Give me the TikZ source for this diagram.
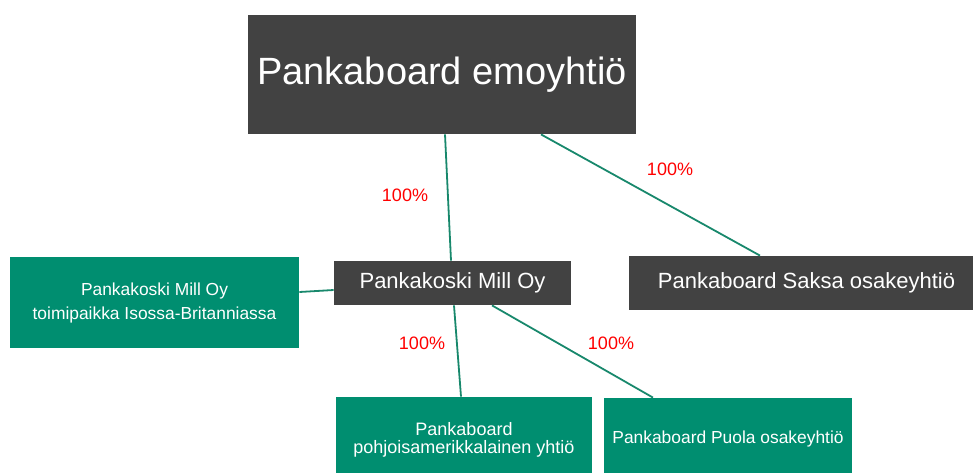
\documentclass[tikz,border=0pt]{standalone}
\usepackage{fontspec}
\setmainfont{Liberation Sans}
\definecolor{pankagray}{RGB}{66,66,66}
\definecolor{pankagreen}{RGB}{0,142,112}
\definecolor{linegreen}{RGB}{24,136,108}

\begin{document}
\begin{tikzpicture}[x=0.5pt,y=-0.5pt,
		darkbox/.style={rectangle,fill=pankagray,text=white,inner sep=0pt,align=center},
		greenbox/.style={rectangle,fill=pankagreen,text=white,inner sep=0pt,align=center},
		link/.style={linegreen,line width=0.9pt},
		share/.style={text=red,inner sep=0pt,font=\fontsize{9}{11}\selectfont}]
			\useasboundingbox (0,0) rectangle (973,472);
			
			\node[darkbox,minimum width=194pt,minimum height=59.5pt,font=\fontsize{19}{23}\selectfont] (parent) at (442,74.5) {Pankaboard emoyhtiö};
			\node[darkbox,minimum width=118.5pt,minimum height=22pt,font=\fontsize{11}{13}\selectfont] (mill) at (452.5,283) {Pankakoski Mill Oy};
			\node[darkbox,minimum width=177.5pt,minimum height=27pt,font=\fontsize{11}{13}\selectfont] (saksa) at (806.5,283) {Pankaboard Saksa osakeyhtiö};
			
			\node[greenbox,minimum width=144.5pt,minimum height=45.5pt,font=\fontsize{8.7}{12}\selectfont] (uk) at (154.5,302.5) {Pankakoski Mill Oy\\toimipaikka Isossa-Britanniassa};
			\node[greenbox,minimum width=128pt,minimum height=43pt,font=\fontsize{9}{9}\selectfont] (usa) at (464,440) {Pankaboard\\pohjoisamerikkalainen yhtiö};
			\node[greenbox,minimum width=124pt,minimum height=40.5pt,font=\fontsize{8.7}{11}\selectfont] (puola) at (728,438.5) {Pankaboard Puola osakeyhtiö};
			
			\draw[link] ([xshift=1.5pt]parent.south) -- ([xshift=-0.75pt]mill.north);
			\draw[link] ([xshift=49.5pt]parent.south) -- ([xshift=-23.25pt]saksa.north);
			\draw[link] ([yshift=5.25pt]uk.east) -- ([yshift=-3.5pt]mill.west);
			\draw[link] ([xshift=0.75pt]mill.south) -- ([xshift=-1.5pt]usa.north);
			\draw[link] ([xshift=19.75pt]mill.south) -- ([xshift=-37.5pt]puola.north);
			
			\node[share] (pctmill) at (405,195) {100\%};
			\node[share] (pctsaksa) at (670,169) {100\%};
			\node[share] (pctusa) at (422,343) {100\%};
			\node[share] (pctpuola) at (611,343) {100\%};
		\end{tikzpicture}
\end{document}
